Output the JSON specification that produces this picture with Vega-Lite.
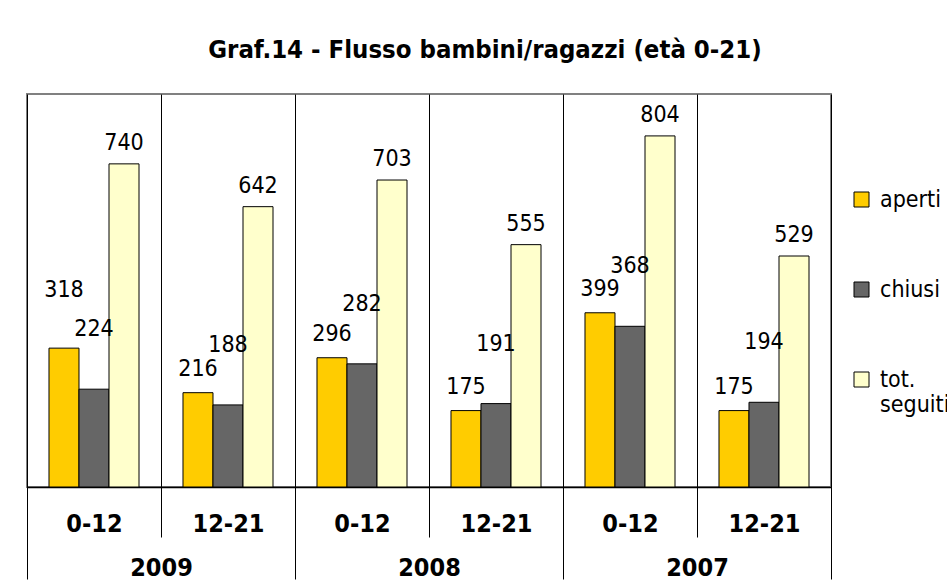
{
  "$schema": "https://vega.github.io/schema/vega-lite/v6.json",
  "width": 804,
  "height": 393,
  "autosize": {"type": "none"},
  "padding": {"left": 27, "top": 94, "right": 116, "bottom": 93},
  "background": "white",
  "title": {
    "text": "Graf.14 - Flusso bambini/ragazzi (età 0-21)",
    "font": "DejaVu Sans Condensed",
    "fontSize": 25.5,
    "fontWeight": "bold",
    "color": "black",
    "anchor": "middle",
    "frame": "group",
    "baseline": "alphabetic",
    "dx": 56,
    "offset": 11
  },
  "config": {
    "view": {"stroke": "#808080", "strokeWidth": 2},
    "legend": {
      "orient": "none",
      "legendX": 823,
      "legendY": 94,
      "padding": 0,
      "title": null,
      "symbolType": "square",
      "symbolSize": 225,
      "symbolStrokeColor": "black",
      "symbolStrokeWidth": 1,
      "labelFont": "DejaVu Sans Condensed",
      "labelFontSize": 23,
      "labelColor": "black",
      "labelOffset": 7,
      "labelLimit": 0,
      "rowPadding": 66
    }
  },
  "data": {
    "values": [
      {"gruppo": "2009 0-12", "anno": "2009", "serie": "aperti", "valore": 318},
      {"gruppo": "2009 0-12", "anno": "2009", "serie": "chiusi", "valore": 224},
      {"gruppo": "2009 0-12", "anno": "2009", "serie": "tot. seguiti", "valore": 740},
      {"gruppo": "2009 12-21", "anno": "2009", "serie": "aperti", "valore": 216},
      {"gruppo": "2009 12-21", "anno": "2009", "serie": "chiusi", "valore": 188},
      {"gruppo": "2009 12-21", "anno": "2009", "serie": "tot. seguiti", "valore": 642},
      {"gruppo": "2008 0-12", "anno": "2008", "serie": "aperti", "valore": 296},
      {"gruppo": "2008 0-12", "anno": "2008", "serie": "chiusi", "valore": 282},
      {"gruppo": "2008 0-12", "anno": "2008", "serie": "tot. seguiti", "valore": 703},
      {"gruppo": "2008 12-21", "anno": "2008", "serie": "aperti", "valore": 175},
      {"gruppo": "2008 12-21", "anno": "2008", "serie": "chiusi", "valore": 191},
      {"gruppo": "2008 12-21", "anno": "2008", "serie": "tot. seguiti", "valore": 555},
      {"gruppo": "2007 0-12", "anno": "2007", "serie": "aperti", "valore": 399},
      {"gruppo": "2007 0-12", "anno": "2007", "serie": "chiusi", "valore": 368},
      {"gruppo": "2007 0-12", "anno": "2007", "serie": "tot. seguiti", "valore": 804},
      {"gruppo": "2007 12-21", "anno": "2007", "serie": "aperti", "valore": 175},
      {"gruppo": "2007 12-21", "anno": "2007", "serie": "chiusi", "valore": 194},
      {"gruppo": "2007 12-21", "anno": "2007", "serie": "tot. seguiti", "valore": 529}
    ]
  },
  "layer": [
    {
      "mark": {"type": "bar", "stroke": "black", "strokeWidth": 1},
      "encoding": {
        "x": {
          "field": "gruppo",
          "type": "nominal",
          "scale": {
            "domain": ["2009 0-12", "2009 12-21", "2008 0-12", "2008 12-21", "2007 0-12", "2007 12-21"],
            "paddingInner": 0,
            "paddingOuter": 0
          },
          "axis": {
            "orient": "bottom",
            "title": null,
            "labelExpr": "split(datum.label, ' ')[1]",
            "labelAngle": 0,
            "labelFont": "DejaVu Sans Condensed",
            "labelFontWeight": "bold",
            "labelFontSize": 25,
            "labelColor": "black",
            "labelBaseline": "middle",
            "labelPadding": -14,
            "labelOverlap": false,
            "tickBand": "extent",
            "tickSize": 50,
            "tickColor": "black",
            "tickWidth": 1,
            "domainColor": "black",
            "domainWidth": 1.5,
            "grid": true,
            "gridColor": "black",
            "gridWidth": 1
          }
        },
        "xOffset": {
          "field": "serie",
          "type": "nominal",
          "scale": {"domain": ["aperti", "chiusi", "tot. seguiti"], "paddingInner": 0, "paddingOuter": 0.7333}
        },
        "y": {
          "field": "valore",
          "type": "quantitative",
          "scale": {"domain": [0, 900], "nice": false},
          "axis": null
        },
        "color": {
          "field": "serie",
          "type": "nominal",
          "scale": {"domain": ["aperti", "chiusi", "tot. seguiti"], "range": ["#FFCC00", "#666666", "#FFFFCC"]},
          "legend": {
            "labelExpr": "datum.label == 'tot. seguiti' ? ['tot.', 'seguiti'] : datum.label"
          }
        }
      }
    },
    {
      "transform": [{"filter": "datum.serie == 'aperti' && datum.gruppo != '2009 0-12'"}],
      "mark": {"type": "text", "font": "DejaVu Sans Condensed", "fontSize": 23, "color": "black", "baseline": "middle", "dy": -24},
      "encoding": {
        "x": {"field": "gruppo", "type": "nominal", "scale": {"domain": ["2009 0-12", "2009 12-21", "2008 0-12", "2008 12-21", "2007 0-12", "2007 12-21"], "paddingInner": 0, "paddingOuter": 0}, "axis": null},
        "xOffset": {"field": "serie", "type": "nominal", "scale": {"domain": ["aperti", "chiusi", "tot. seguiti"], "paddingInner": 0, "paddingOuter": 0.7333}},
        "y": {"field": "valore", "type": "quantitative", "scale": {"domain": [0, 900], "nice": false}, "axis": null},
        "text": {"field": "valore", "type": "quantitative"}
      }
    },
    {
      "transform": [{"filter": "datum.serie == 'aperti' && datum.gruppo == '2009 0-12'"}],
      "mark": {"type": "text", "font": "DejaVu Sans Condensed", "fontSize": 23, "color": "black", "baseline": "middle", "dy": -58},
      "encoding": {
        "x": {"field": "gruppo", "type": "nominal", "scale": {"domain": ["2009 0-12", "2009 12-21", "2008 0-12", "2008 12-21", "2007 0-12", "2007 12-21"], "paddingInner": 0, "paddingOuter": 0}, "axis": null},
        "xOffset": {"field": "serie", "type": "nominal", "scale": {"domain": ["aperti", "chiusi", "tot. seguiti"], "paddingInner": 0, "paddingOuter": 0.7333}},
        "y": {"field": "valore", "type": "quantitative", "scale": {"domain": [0, 900], "nice": false}, "axis": null},
        "text": {"field": "valore", "type": "quantitative"}
      }
    },
    {
      "transform": [{"filter": "datum.serie == 'chiusi'"}],
      "mark": {"type": "text", "font": "DejaVu Sans Condensed", "fontSize": 23, "color": "black", "baseline": "middle", "dy": -60},
      "encoding": {
        "x": {"field": "gruppo", "type": "nominal", "scale": {"domain": ["2009 0-12", "2009 12-21", "2008 0-12", "2008 12-21", "2007 0-12", "2007 12-21"], "paddingInner": 0, "paddingOuter": 0}, "axis": null},
        "xOffset": {"field": "serie", "type": "nominal", "scale": {"domain": ["aperti", "chiusi", "tot. seguiti"], "paddingInner": 0, "paddingOuter": 0.7333}},
        "y": {"field": "valore", "type": "quantitative", "scale": {"domain": [0, 900], "nice": false}, "axis": null},
        "text": {"field": "valore", "type": "quantitative"}
      }
    },
    {
      "transform": [{"filter": "datum.serie == 'tot. seguiti'"}],
      "mark": {"type": "text", "font": "DejaVu Sans Condensed", "fontSize": 23, "color": "black", "baseline": "middle", "dy": -21},
      "encoding": {
        "x": {"field": "gruppo", "type": "nominal", "scale": {"domain": ["2009 0-12", "2009 12-21", "2008 0-12", "2008 12-21", "2007 0-12", "2007 12-21"], "paddingInner": 0, "paddingOuter": 0}, "axis": null},
        "xOffset": {"field": "serie", "type": "nominal", "scale": {"domain": ["aperti", "chiusi", "tot. seguiti"], "paddingInner": 0, "paddingOuter": 0.7333}},
        "y": {"field": "valore", "type": "quantitative", "scale": {"domain": [0, 900], "nice": false}, "axis": null},
        "text": {"field": "valore", "type": "quantitative"}
      }
    },
    {
      "mark": {"type": "tick", "opacity": 0},
      "encoding": {
        "x": {
          "field": "anno",
          "type": "nominal",
          "scale": {"domain": ["2009", "2008", "2007"], "paddingInner": 0, "paddingOuter": 0},
          "axis": {
            "orient": "bottom",
            "title": null,
            "labelAngle": 0,
            "labelFont": "DejaVu Sans Condensed",
            "labelFontWeight": "bold",
            "labelFontSize": 25,
            "labelColor": "black",
            "labelBaseline": "middle",
            "labelPadding": -12,
            "tickBand": "extent",
            "tickSize": 92,
            "tickColor": "black",
            "tickWidth": 1,
            "domain": false,
            "grid": false
          }
        },
        "y": {"field": "valore", "type": "quantitative", "scale": {"domain": [0, 900], "nice": false}, "axis": null}
      }
    }
  ],
  "resolve": {"scale": {"x": "independent"}}
}
